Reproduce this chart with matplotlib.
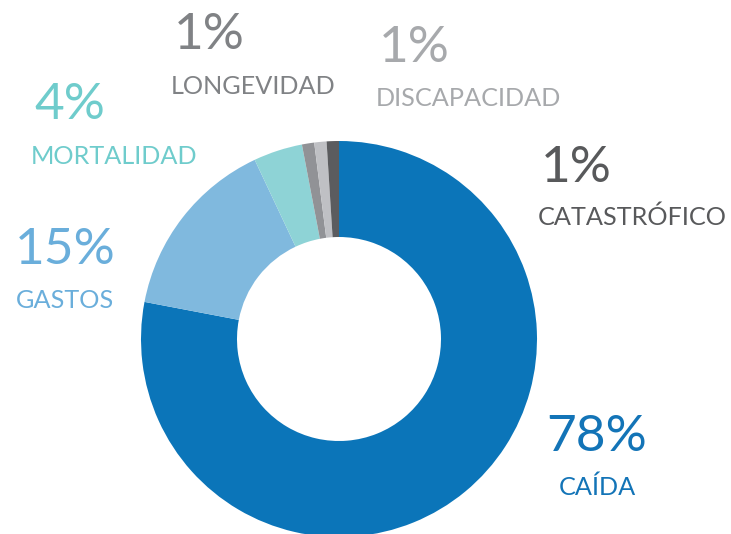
import matplotlib.pyplot as plt

# Slice data, clockwise from 12 o'clock
labels = ['CAÍDA', 'GASTOS', 'MORTALIDAD', 'LONGEVIDAD', 'DISCAPACIDAD', 'CATASTRÓFICO']
values = [78, 15, 4, 1, 1, 1]
pct_text = ['78%', '15%', '4%', '1%', '1%', '1%']
slice_colors = ['#0b75b9', '#80b9de', '#8ed3d6', '#919296', '#bfc0c4', '#5b5c5f']
text_colors = ['#1374b7', '#6aaedb', '#6fcccc', '#808285', '#a7a9ac', '#58595b']

# label anchors in pixels (x, y of percentage, y of name, alignment)
anchors = [
    (597, 437, 487, 'center'),
    (65, 250, 300, 'center'),
    (31, 105, 157, 'left'),
    (171, 35, 86, 'left'),
    (376, 48, 99, 'left'),
    (538, 168, 217, 'left'),
]

W, H = 731, 534
fig = plt.figure(figsize=(W / 100, H / 100), dpi=100)
ax = fig.add_axes([0, 0, 1, 1])

cx, cy, r = 339, H - 339, 198
ax.pie(values, colors=slice_colors, startangle=90, counterclock=False,
       center=(cx, cy), radius=r,
       wedgeprops=dict(width=96, linewidth=0))
ax.set_xlim(0, W)
ax.set_ylim(0, H)
ax.set_aspect('equal')
ax.axis('off')

for i, (x, yp, yn, ha) in enumerate(anchors):
    c = text_colors[i]
    px = x if ha == 'center' else x + 3
    ax.text(px, H - yp, pct_text[i], color=c, fontsize=37, family='Lato',
            ha=ha, va='center')
    ax.text(x, H - yn, labels[i], color=c, fontsize=18.2, family='Lato',
            ha=ha, va='center')

fig.savefig('out.png', dpi=100)
